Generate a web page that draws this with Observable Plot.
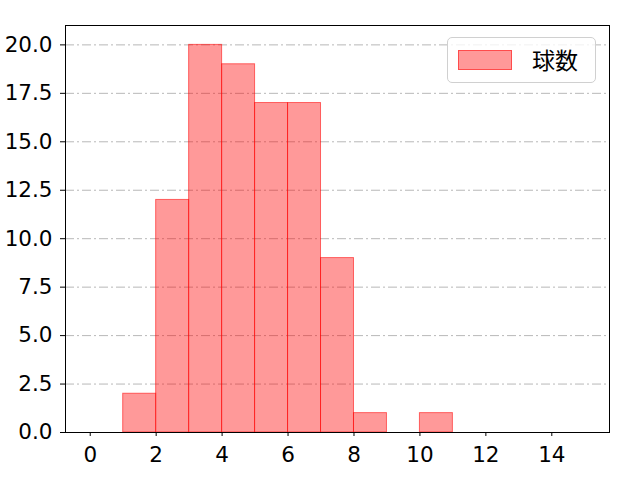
<!DOCTYPE html>
<html>
<head>
<meta charset="utf-8">
<script src="https://cdn.jsdelivr.net/npm/d3@7"></script>
<script src="https://cdn.jsdelivr.net/npm/@observablehq/plot@0.6"></script>
<style>
  html, body { margin: 0; padding: 0; background: #fff; }
  #wrap { position: relative; width: 640px; height: 480px; font-family: "Noto Sans CJK JP", "DejaVu Sans", sans-serif; }
  #legend { position: absolute; left: 447px; top: 37px; width: 149px; height: 46px; border: 1px solid #d0d0d0; border-radius: 5px; background: rgba(255,255,255,0.8); box-sizing: border-box; }
  #legend .sw { position: absolute; left: 10px; top: 12px; width: 54px; height: 20px; background: rgba(255,0,0,0.4); border: 1px solid rgba(255,0,0,0.5); box-sizing: border-box; }
  #legend .lb { position: absolute; left: 84px; top: 6px; font-size: 23px; color: #000; line-height: 30px; }
</style>
</head>
<body>
<div id="wrap"></div>
<script>
const binStart = [0, 1, 2, 3, 4, 5, 6, 7, 8, 9, 10, 11, 12, 13, 14];
const binEnd   = [1, 2, 3, 4, 5, 6, 7, 8, 9, 10, 11, 12, 13, 14, 15];
const counts   = [0, 2, 12, 20, 19, 17, 17, 9, 1, 0, 1, 0, 0, 0, 0];
const xTicks = [0, 2, 4, 6, 8, 10, 12, 14];
const yTicks = [0, 2.5, 5, 7.5, 10, 12.5, 15, 17.5, 20];
const seriesName = "球数";

const bins = binStart.map((s, i) => ({x1: s, x2: binEnd[i], y: counts[i]})).filter(d => d.y > 0);

const chart = Plot.plot({
  width: 640,
  height: 480,
  marginLeft: 65,
  marginRight: 31,
  marginTop: 25,
  marginBottom: 48,
  style: {fontFamily: "'DejaVu Sans', sans-serif", fontSize: "21px", color: "#000", background: "#fff"},
  x: {domain: [-0.75, 15.75]},
  y: {domain: [0, 21]},
  marks: [
    Plot.ruleY(yTicks, {stroke: "#b0b0b0", strokeWidth: 0.9, strokeDasharray: "9,3,2,3"}),
    Plot.rectY(bins, {x1: "x1", x2: "x2", y: "y", fill: "red", fillOpacity: 0.4, stroke: "red", strokeOpacity: 0.55, strokeWidth: 1}),
    Plot.axisX({ticks: xTicks, tickSize: 4, tickPadding: 10, tickFormat: d => String(d), fontSize: 21.5, label: null}),
    Plot.axisY({ticks: yTicks, tickSize: 5, tickPadding: 8, tickFormat: d => d.toFixed(1), fontSize: 21.5, label: null}),
    Plot.frame({stroke: "#000", strokeWidth: 1})
  ]
});
const wrap = document.getElementById("wrap");
wrap.appendChild(chart);
const lg = document.createElement("div");
lg.id = "legend";
lg.innerHTML = `<div class="sw"></div><div class="lb">${seriesName}</div>`;
wrap.appendChild(lg);
</script>
</body>
</html>
